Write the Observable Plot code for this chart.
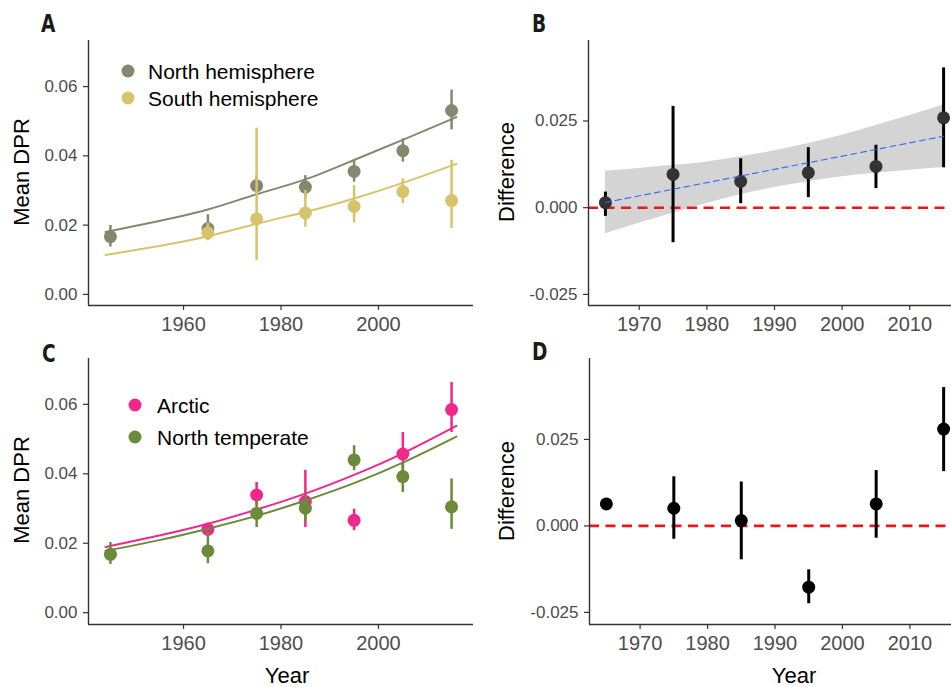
<!DOCTYPE html>
<html>
<head>
<meta charset="utf-8">
<script src="https://cdn.jsdelivr.net/npm/d3@7"></script>
<script src="https://cdn.jsdelivr.net/npm/@observablehq/plot@0.6"></script>
<style>
  html, body { margin: 0; padding: 0; background: #fff; }
  body { width: 951px; height: 687px; overflow: hidden; position: relative; font-family: "Liberation Sans", Arial, Helvetica, sans-serif; }
  .abs { position: absolute; white-space: nowrap; line-height: 1; }
  .plab { font-family: "Liberation Sans Narrow", "DejaVu Sans Condensed", "Liberation Sans", sans-serif; font-weight: bold; font-size: 24px; color: #1a1a1a; transform: scaleX(0.86); transform-origin: left top; }
  .ttl { font-size: 22px; color: #000; transform: translate(-50%, -50%); }
  .yr { line-height: 0.9; }
  .rot { transform: translate(-50%, -50%) rotate(-90deg); }
  .leg { font-size: 21px; color: #000; transform: translateY(-50%); }
  .dotk { position: absolute; width: 13px; height: 13px; border-radius: 50%; transform: translate(-50%, -50%); }
  svg { overflow: visible; }
</style>
</head>
<body>
<script>
// ---------- Data ----------
// Panel A: mean DPR by hemisphere
const yearsNorth = [1945, 1965, 1975, 1985, 1995, 2005, 2015];
const northMean  = [0.0167, 0.0190, 0.0314, 0.0310, 0.0355, 0.0415, 0.0531];
const northLo    = [0.0137, 0.0156, 0.0286, 0.0276, 0.0324, 0.0382, 0.0475];
const northHi    = [0.0199, 0.0230, 0.0343, 0.0343, 0.0387, 0.0449, 0.0590];
const yearsSouth = [1965, 1975, 1985, 1995, 2005, 2015];
const southMean  = [0.0178, 0.0218, 0.0235, 0.0254, 0.0297, 0.0271];
const southLo    = [0.0155, 0.0098, 0.0194, 0.0206, 0.0262, 0.0190];
const southHi    = [0.0205, 0.0480, 0.0300, 0.0314, 0.0334, 0.0387];
const fitYearsA  = [1944, 1955, 1965, 1975, 1985, 1995, 2005, 2016];
const northFit   = [0.0180, 0.0212, 0.0245, 0.0289, 0.0332, 0.0388, 0.0446, 0.0512];
const southFit   = [0.0114, 0.0140, 0.0168, 0.0204, 0.0238, 0.0277, 0.0322, 0.0377];

// Panel B: difference north - south
const yearsB   = [1965, 1975, 1985, 1995, 2005, 2015];
const diffB    = [0.00144, 0.0096, 0.0076, 0.0101, 0.0119, 0.0259];
const diffBLo  = [-0.0025, -0.0101, 0.00115, 0.0029, 0.0055, 0.0115];
const diffBHi  = [0.0045, 0.0292, 0.0141, 0.0173, 0.0180, 0.0403];
const bandYears = [1965, 1970, 1975, 1980, 1985, 1990, 1995, 2000, 2005, 2010, 2015];
const bandLo    = [-0.0075, -0.0045, -0.0016, 0.0012, 0.0037, 0.0058, 0.0075, 0.0089, 0.0099, 0.0108, 0.0116];
const bandHi    = [0.0105, 0.0113, 0.0122, 0.0132, 0.0147, 0.0164, 0.0185, 0.0209, 0.0237, 0.0266, 0.0296];
const trendYears = [1965, 2015];
const trendB     = [0.0015, 0.0206];

// Panel C: Arctic vs North temperate
const yearsArctic = [1965, 1975, 1985, 1995, 2005, 2015];
const arcticMean  = [0.0240, 0.0339, 0.0320, 0.0266, 0.0457, 0.0585];
const arcticLo    = [0.0222, 0.0308, 0.0245, 0.0236, 0.0399, 0.0519];
const arcticHi    = [0.0258, 0.0375, 0.0410, 0.0298, 0.0519, 0.0663];
const yearsTemp   = [1945, 1965, 1975, 1985, 1995, 2005, 2015];
const tempMean    = [0.0168, 0.0178, 0.0286, 0.0301, 0.0440, 0.0392, 0.0305];
const tempLo      = [0.0139, 0.0141, 0.0245, 0.0264, 0.0409, 0.0346, 0.0240];
const tempHi      = [0.0202, 0.0231, 0.0322, 0.0337, 0.0481, 0.0433, 0.0385];
const fitYearsC   = [1944, 1955, 1965, 1975, 1985, 1995, 2005, 2016];
const arcticFit   = [0.0189, 0.0222, 0.0256, 0.0297, 0.0343, 0.0397, 0.0459, 0.0538];
const tempFit     = [0.0178, 0.0209, 0.0242, 0.0279, 0.0323, 0.0373, 0.0432, 0.0507];

// Panel D: difference Arctic - North temperate
const yearsD  = [1965, 1975, 1985, 1995, 2005, 2015];
const diffD   = [0.00635, 0.0051, 0.00154, -0.0177, 0.00635, 0.0280];
const diffDLo = [0.0060, -0.00385, -0.0098, -0.0225, -0.00356, 0.0157];
const diffDHi = [0.0067, 0.0142, 0.0127, -0.0127, 0.0160, 0.0400];

// Ticks and labels
const ticksXLeft  = [1960, 1980, 2000];
const ticksXRight = [1970, 1980, 1990, 2000, 2010];
const ticksYMean  = [0, 0.02, 0.04, 0.06];
const ticksYDiff  = [-0.025, 0, 0.025];
const legendA = ["North hemisphere", "South hemisphere"];
const legendC = ["Arctic", "North temperate"];
const colors = {north: "#87876f", south: "#d6c46c", arctic: "#f0288c", temp: "#6b8b3a"};

// ---------- helpers ----------
const rows = (xs, ...cols) => xs.map((x, i) => ({x, ...Object.fromEntries(cols.map(([k, arr]) => [k, arr[i]]))}));
const pts = (xs, m, lo, hi) => rows(xs, ["m", m], ["lo", lo], ["hi", hi]);

function errMarks(data, color, width = 2.5, r = 6.5) {
  return [
    Plot.ruleX(data, {x: "x", y1: "lo", y2: "hi", stroke: color, strokeWidth: width}),
    Plot.dot(data, {x: "x", y: "m", r, fill: color, stroke: "none"})
  ];
}

function panel({left, top, width, height, mL, mR, mT, mB, xDomain, xTicks, yDomain, yTicks, yFmt, marks}) {
  const p = Plot.plot({
    width, height, marginLeft: mL, marginRight: mR, marginTop: mT, marginBottom: mB,
    style: {fontFamily: '"Liberation Sans", Arial, Helvetica, sans-serif', background: "transparent", overflow: "visible"},
    x: {domain: xDomain},
    y: {domain: yDomain},
    marks: [
      ...marks,
      Plot.axisX({ticks: xTicks, tickFormat: d => String(d), tickSize: 5, tickPadding: 6, fontSize: 20, fill: "#4d4d4d", stroke: "#333", strokeWidth: 1.2, label: null}),
      Plot.axisY({ticks: yTicks, tickFormat: yFmt, tickSize: 5, tickPadding: 6, fontSize: 17, fill: "#4d4d4d", stroke: "#333", strokeWidth: 1.2, label: null}),
      Plot.ruleX([xDomain[0]], {stroke: "#333", strokeWidth: 1.4}),
      Plot.ruleY([yDomain[0]], {stroke: "#333", strokeWidth: 1.4})
    ]
  });
  p.style.position = "absolute";
  p.style.left = left + "px";
  p.style.top = top + "px";
  document.body.appendChild(p);
}

function addText(cls, text, x, y, extra = {}) {
  const d = document.createElement("div");
  d.className = "abs " + cls;
  d.textContent = text;
  d.style.left = x + "px";
  d.style.top = y + "px";
  Object.assign(d.style, extra);
  document.body.appendChild(d);
}
function addDot(color, x, y) {
  const d = document.createElement("div");
  d.className = "dotk";
  d.style.background = color;
  d.style.left = x + "px";
  d.style.top = y + "px";
  document.body.appendChild(d);
}

const fmt2 = d => d.toFixed(2);
const fmt3 = d => d.toFixed(3);
const xLeftDomain = [1940.5, 2019.5];
const xRightDomain = [1962.5, 2017.5];

// ---------- Panel A ----------
const northPts = pts(yearsNorth, northMean, northLo, northHi);
const southPts = pts(yearsSouth, southMean, southLo, southHi);
panel({
  left: 0, top: 0, width: 475, height: 345, mL: 88, mR: 2, mT: 40, mB: 40,
  xDomain: xLeftDomain, xTicks: ticksXLeft, yDomain: [-0.0032, 0.0733], yTicks: ticksYMean, yFmt: fmt2,
  marks: [
    Plot.line(rows(fitYearsA, ["y", northFit]), {x: "x", y: "y", stroke: colors.north, strokeWidth: 2, curve: "natural"}),
    ...errMarks(northPts, colors.north),
    Plot.line(rows(fitYearsA, ["y", southFit]), {x: "x", y: "y", stroke: colors.south, strokeWidth: 2, curve: "natural"}),
    ...errMarks(southPts, colors.south)
  ]
});

// ---------- Panel B ----------
const bandData = rows(bandYears, ["lo", bandLo], ["hi", bandHi]);
const bPts = pts(yearsB, diffB, diffBLo, diffBHi);
panel({
  left: 475, top: 0, width: 490, height: 345, mL: 113, mR: 5, mT: 40, mB: 40,
  xDomain: xRightDomain, xTicks: ticksXRight, yDomain: [-0.0282, 0.0482], yTicks: ticksYDiff, yFmt: fmt3,
  marks: [
    Plot.areaY(bandData, {x: "x", y1: "lo", y2: "hi", fill: "#999999", fillOpacity: 0.42, curve: "natural"}),
    Plot.ruleY([0], {stroke: "#e8161d", strokeWidth: 2.6, strokeDasharray: "10,6.5"}),
    Plot.ruleX(bPts, {x: "x", y1: "lo", y2: "hi", stroke: "#000", strokeWidth: 3}),
    Plot.dot(bPts, {x: "x", y: "m", r: 6.5, fill: "#333333"}),
    Plot.line(rows(trendYears, ["y", trendB]), {x: "x", y: "y", stroke: "#3366ff", strokeWidth: 1.1, strokeDasharray: "6,4"})
  ]
});

// ---------- Panel C ----------
const arcPts = pts(yearsArctic, arcticMean, arcticLo, arcticHi);
const tempPts = pts(yearsTemp, tempMean, tempLo, tempHi);
panel({
  left: 0, top: 318, width: 475, height: 346, mL: 88, mR: 2, mT: 40, mB: 40,
  xDomain: xLeftDomain, xTicks: ticksXLeft, yDomain: [-0.0034, 0.0732], yTicks: ticksYMean, yFmt: fmt2,
  marks: [
    Plot.line(rows(fitYearsC, ["y", arcticFit]), {x: "x", y: "y", stroke: colors.arctic, strokeWidth: 2, curve: "natural"}),
    ...errMarks(arcPts, colors.arctic),
    Plot.line(rows(fitYearsC, ["y", tempFit]), {x: "x", y: "y", stroke: colors.temp, strokeWidth: 2, curve: "natural"}),
    ...errMarks(tempPts, colors.temp)
  ]
});

// ---------- Panel D ----------
const dPts = pts(yearsD, diffD, diffDLo, diffDHi);
panel({
  left: 475, top: 318, width: 490, height: 346, mL: 114, mR: 5, mT: 40, mB: 40,
  xDomain: xRightDomain, xTicks: ticksXRight, yDomain: [-0.0285, 0.0484], yTicks: ticksYDiff, yFmt: fmt3,
  marks: [
    Plot.ruleY([0], {stroke: "#e8161d", strokeWidth: 2.6, strokeDasharray: "10,6.5"}),
    Plot.ruleX(dPts, {x: "x", y1: "lo", y2: "hi", stroke: "#000", strokeWidth: 3}),
    Plot.dot(dPts, {x: "x", y: "m", r: 6.5, fill: "#000"})
  ]
});

// ---------- Text: panel letters, axis titles, legends ----------
addText("plab", "A", 41, 12);
addText("plab", "B", 532, 12);
addText("plab", "C", 42, 342);
addText("plab", "D", 532, 340);

addText("ttl rot", "Mean DPR", 22, 172);
addText("ttl rot", "Difference", 507, 172);
addText("ttl rot", "Mean DPR", 22, 490);
addText("ttl rot", "Difference", 507, 491);
addText("ttl yr", "Year", 287, 676);
addText("ttl yr", "Year", 794, 676);

addDot(colors.north, 128, 71);
addDot(colors.south, 128, 98);
addText("leg", legendA[0], 148, 71);
addText("leg", legendA[1], 148, 98);
addDot(colors.arctic, 135, 405);
addDot(colors.temp, 135, 437);
addText("leg", legendC[0], 157, 405);
addText("leg", legendC[1], 157, 437);
</script>
</body>
</html>
